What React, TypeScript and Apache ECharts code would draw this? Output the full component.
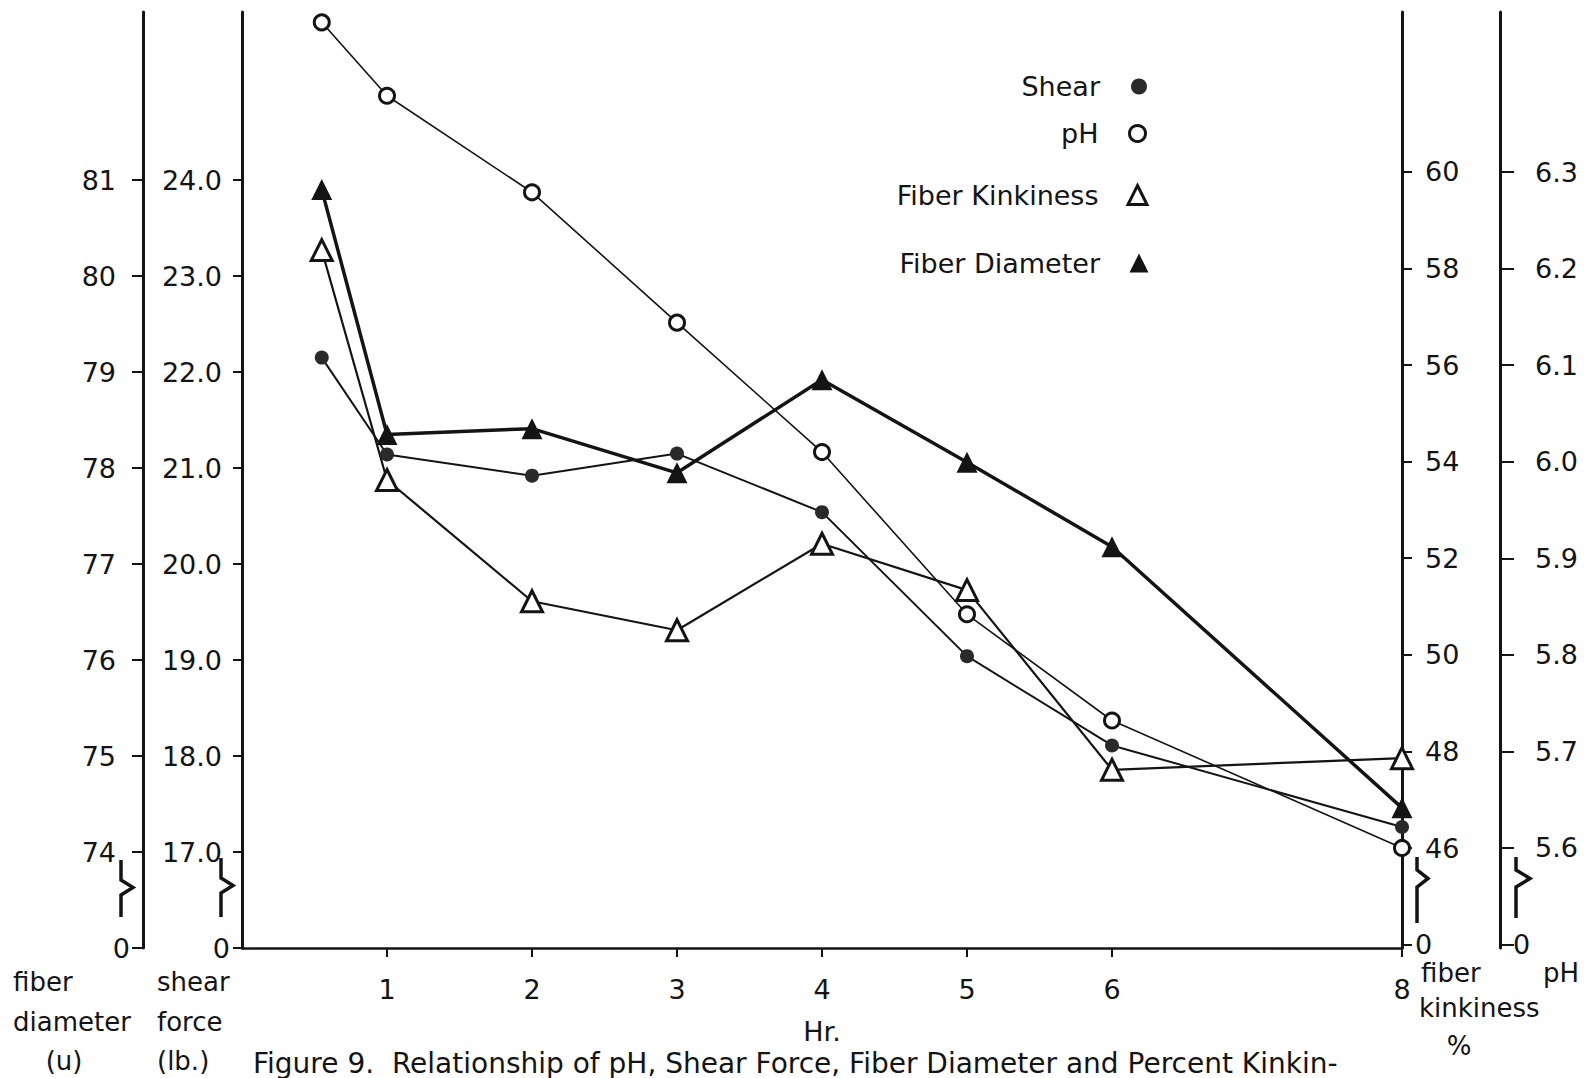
import React, { useEffect, useRef } from "react";
import * as echarts from "echarts";

// ---- data ----
const hours = [0.55, 1, 2, 3, 4, 5, 6, 8];
const shearForce = [22.15, 21.14, 20.92, 21.15, 20.54, 19.04, 18.11, 17.26];
const pHValues = [6.455, 6.379, 6.279, 6.144, 6.01, 5.842, 5.732, 5.6];
const kinkiness = [58.38, 53.62, 51.11, 50.51, 52.3, 51.34, 47.62, 47.86];
const diameter = [80.9, 78.35, 78.41, 77.95, 78.92, 78.06, 77.18, 74.46];

const hourTicks = [1, 2, 3, 4, 5, 6, 8];
const diameterTicks = [73, 74, 75, 76, 77, 78, 79, 80, 81];
const shearTicks = [16, 17, 18, 19, 20, 21, 22, 23, 24];
const kinkTicks = [44, 46, 48, 50, 52, 54, 56, 58, 60];
const pHTicks = [5.5, 5.6, 5.7, 5.8, 5.9, 6.0, 6.1, 6.2, 6.3];

const FONT = "DejaVu Sans";
const INK = "#141414";

const pairs = (ys: number[]) => hours.map((h, i) => [h, ys[i]]);

function txt(x: number, y: number, text: string, align = "left", size = 26, vAlign = "middle") {
  return {
    type: "text",
    x,
    y,
    style: {
      text,
      fontFamily: FONT,
      fontSize: size,
      fill: INK,
      align,
      verticalAlign: vAlign,
      textAlign: align,
      textVerticalAlign: vAlign,
    },
  };
}

function zig(x: number, y0: number, y1: number, y2: number, y3: number, w: number) {
  return {
    type: "polyline",
    shape: { points: [[x, y0], [x, y1], [x + w, (y1 + y2) / 2], [x, y2], [x, y3]] },
    style: { stroke: INK, lineWidth: 3.5, fill: null },
  };
}

function sideAxis(side: string, min: number, max: number, ticks: number[], zero: number, fmt: (v: number) => string, offset: number, margin: number, pad: number, tickLen: number) {
  return {
    type: "value",
    position: side,
    offset,
    min,
    max,
    axisLine: { show: true, onZero: false, lineStyle: { color: INK, width: 3 } },
    axisTick: { show: true, customValues: ticks, length: tickLen, lineStyle: { color: INK, width: 2 } },
    splitLine: { show: false },
    axisLabel: {
      customValues: ticks,
      margin,
      formatter: (v: number) => (Math.abs(v - zero) < 1e-6 ? "{z|0}" : "{n|" + fmt(v) + "}"),
      rich: {
        z: { fontFamily: FONT, fontSize: 27, color: INK },
        n: {
          fontFamily: FONT,
          fontSize: 27,
          color: INK,
          padding: side === "left" ? [0, pad, 0, 0] : [0, 0, 0, pad],
        },
      },
    },
  };
}

const legendDefs = [
  { name: "Shear", icon: "circle", itemStyle: { color: "#2a2a2a" }, top: 73, size: 16 },
  { name: "pH", icon: "circle", itemStyle: { color: "#fff", borderColor: INK, borderWidth: 3 }, top: 120, size: 16 },
  { name: "Fiber Kinkiness", icon: "triangle", itemStyle: { color: "#fff", borderColor: INK, borderWidth: 3 }, top: 183, size: 19 },
  { name: "Fiber Diameter", icon: "triangle", itemStyle: { color: INK }, top: 251, size: 19 },
];

export default function App() {
  const ref = useRef<HTMLDivElement>(null);
  useEffect(() => {
    if (!ref.current) return;
    const chart = echarts.init(ref.current, null, { renderer: "svg" });
    const option: any = {
      animation: false,
      backgroundColor: "#ffffff",
      grid: { left: 242, right: 184, top: 12, bottom: 130, containLabel: false },
      legend: legendDefs.map((l) => ({
        data: [{ name: l.name, icon: l.icon, itemStyle: l.itemStyle }],
        right: 439 - (l.size - 16) / 2,
        top: l.top - (l.size - 16) / 2,
        orient: "vertical",
        align: "right",
        padding: 0,
        itemWidth: l.size,
        itemHeight: l.size,
        selectedMode: false,
        textStyle: { fontFamily: FONT, fontSize: 27, color: INK, padding: [0, 26 - (l.size - 16) / 2, 0, 0] },
      })),
      xAxis: {
        type: "value",
        min: 0,
        max: 8,
        name: "Hr.",
        nameLocation: "middle",
        nameGap: 70,
        nameTextStyle: { fontFamily: FONT, fontSize: 27, color: INK },
        axisLine: { show: true, onZero: false, lineStyle: { color: INK, width: 2.5 } },
        axisTick: { show: true, customValues: hourTicks, length: 9, lineStyle: { color: INK, width: 2 } },
        splitLine: { show: false },
        axisLabel: { customValues: hourTicks, margin: 28, fontFamily: FONT, fontSize: 27, color: INK },
      },
      yAxis: [
        sideAxis("left", 73, 82.75, diameterTicks, 73, (v) => String(Math.round(v)), 99, 13, 14, 11),
        sideAxis("left", 16, 25.75, shearTicks, 16, (v) => v.toFixed(1), 0, 12, 8, 9),
        sideAxis("right", 43.93, 63.31, kinkTicks, 44, (v) => String(Math.round(v)), 0, 13, 10, 10),
        sideAxis("right", 5.4964, 6.4657, pHTicks, 5.5, (v) => v.toFixed(1), 98, 13, 22, 14),
      ],
      series: [
        {
          name: "Shear",
          type: "line",
          yAxisIndex: 1,
          data: pairs(shearForce),
          symbol: "circle",
          symbolSize: 14,
          itemStyle: { color: "#2a2a2a" },
          lineStyle: { color: INK, width: 2 },
          z: 3,
        },
        {
          name: "pH",
          type: "line",
          yAxisIndex: 3,
          data: pairs(pHValues),
          symbol: "circle",
          symbolSize: 15,
          itemStyle: { color: "#fff", borderColor: INK, borderWidth: 3 },
          lineStyle: { color: INK, width: 1.6 },
          z: 3,
        },
        {
          name: "Fiber Kinkiness",
          type: "line",
          yAxisIndex: 2,
          data: pairs(kinkiness),
          symbol: "triangle",
          symbolSize: 21,
          itemStyle: { color: "#fff", borderColor: INK, borderWidth: 3 },
          lineStyle: { color: INK, width: 2.2 },
          z: 3,
        },
        {
          name: "Fiber Diameter",
          type: "line",
          yAxisIndex: 0,
          data: pairs(diameter),
          symbol: "triangle",
          symbolSize: 21,
          itemStyle: { color: INK },
          lineStyle: { color: INK, width: 3.5 },
          z: 4,
        },
      ],
      graphic: [
        zig(121, 860, 880, 895, 917, 12),
        zig(221, 858, 878, 893, 917, 12),
        zig(1417, 857, 870, 887, 923, 11),
        zig(1516, 857, 870, 887, 918, 14),
        txt(13, 982, "fiber"),
        txt(13, 1022, "diameter"),
        txt(64, 1061, "(u)", "center"),
        txt(157, 982, "shear"),
        txt(157, 1022, "force"),
        txt(157, 1061, "(lb.)"),
        txt(1421, 973, "fiber"),
        txt(1419, 1008, "kinkiness"),
        txt(1459, 1046, "%", "center"),
        txt(1543, 973, "pH"),
        txt(253, 1077, "Figure 9.  Relationship of pH, Shear Force, Fiber Diameter and Percent Kinkin-", "left", 28, "bottom"),
      ],
    };
    chart.setOption(option);
    return () => chart.dispose();
  }, []);
  return (
    <div
      ref={ref}
      style={{ position: "absolute", left: 0, top: 0, width: 1586, height: 1078, background: "#fff" }}
    />
  );
}
